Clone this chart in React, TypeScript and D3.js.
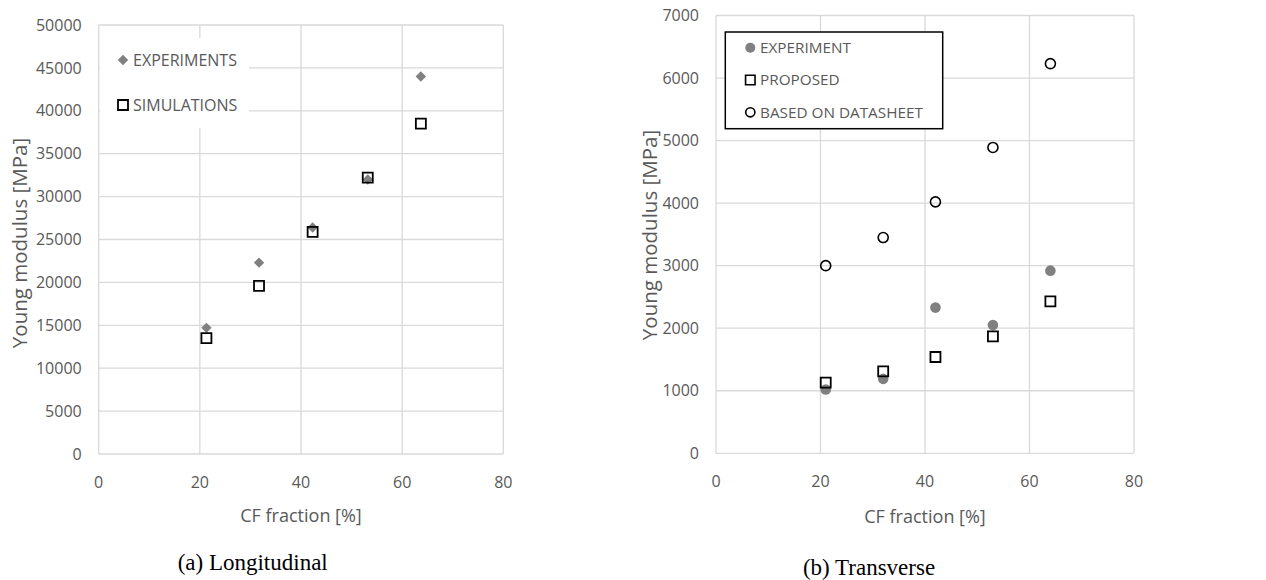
import React from 'react';
import * as d3 from 'd3';

// (a) Longitudinal
const longFraction = [21.3, 31.7, 42.3, 53.2, 63.7];
const longExperiments = [14700, 22300, 26400, 32000, 44000];
const longSimulations = [13500, 19600, 25900, 32200, 38500];

// (b) Transverse
const transFraction = [21, 32, 42, 53, 64];
const transExperiment = [1020, 1190, 2330, 2050, 2920];
const transProposed = [1130, 1310, 1540, 1870, 2430];
const transDatasheet = [3000, 3450, 4020, 4890, 6230];

const xTicks = [0, 20, 40, 60, 80];
const longYTicks = d3.range(0, 50001, 5000);
const transYTicks = d3.range(0, 7001, 1000);

const GRID = '#d9d9d9';
const TEXT = '#595959';
const GRAY = '#808080';
const SANS = '"Open Sans", sans-serif';

const squarePath = d3.symbol(d3.symbolSquare, 100)()!;
const diamondPath = d3.symbol(d3.symbolSquare, 54)()!;

type Panel = {
  x0: number; x1: number; y0: number; y1: number;
  yMax: number; yTicks: number[];
  xTitleY: number; yTitleX: number; yTitleY: number;
};

const Axes = ({ p, x, y }: { p: Panel; x: d3.ScaleLinear<number, number>; y: d3.ScaleLinear<number, number> }) => (
  <g>
    {p.yTicks.map(t => (
      <g key={'y' + t}>
        <line x1={p.x0} x2={p.x1} y1={y(t)} y2={y(t)} stroke={GRID} strokeWidth={1.3} />
        <text x={p.x0 - 17} y={y(t)} dy="0.35em" textAnchor="end" fontSize={16} fill={TEXT} fontFamily={SANS}>{t}</text>
      </g>
    ))}
    {xTicks.map(t => (
      <g key={'x' + t}>
        <line x1={x(t)} x2={x(t)} y1={p.y0} y2={p.y1} stroke={GRID} strokeWidth={1.3} />
        <text x={x(t)} y={p.y1 + 28} dy="0.35em" textAnchor="middle" fontSize={16} fill={TEXT} fontFamily={SANS}>{t}</text>
      </g>
    ))}
    <text x={(p.x0 + p.x1) / 2} y={p.xTitleY} dy="0.35em" textAnchor="middle" fontSize={18} fill={TEXT} fontFamily={SANS}>CF fraction [%]</text>
    <text transform={`translate(${p.yTitleX},${p.yTitleY}) rotate(-90)`} dy="0.35em" textAnchor="middle" fontSize={20.5} fill={TEXT} fontFamily={SANS}>Young modulus [MPa]</text>
  </g>
);

const App = () => {
  const pa: Panel = { x0: 98.7, x1: 503.3, y0: 25, y1: 454, yMax: 50000, yTicks: longYTicks, xTitleY: 516, yTitleX: 20, yTitleY: 243 };
  const pb: Panel = { x0: 716, x1: 1134, y0: 15.5, y1: 453.3, yMax: 7000, yTicks: transYTicks, xTitleY: 517, yTitleX: 650, yTitleY: 235 };

  const xa = d3.scaleLinear().domain([0, 80]).range([pa.x0, pa.x1]);
  const ya = d3.scaleLinear().domain([0, pa.yMax]).range([pa.y1, pa.y0]);
  const xb = d3.scaleLinear().domain([0, 80]).range([pb.x0, pb.x1]);
  const yb = d3.scaleLinear().domain([0, pb.yMax]).range([pb.y1, pb.y0]);

  const legendB = ['EXPERIMENT', 'PROPOSED', 'BASED ON DATASHEET'];
  const legendRows = [47.7, 80, 112.3];

  return (
    <svg width={1266} height={580} style={{ position: 'absolute', left: 0, top: 0, background: '#fff' }}>
      {/* (a) */}
      <Axes p={pa} x={xa} y={ya} />
      <rect x={100} y={38} width={149} height={90} fill="#fff" />
      <path d={diamondPath} transform="translate(123,60) rotate(45)" fill={GRAY} />
      <text x={133} y={60} dy="0.35em" fontSize={16} fill={TEXT} fontFamily={SANS}>EXPERIMENTS</text>
      <path d={squarePath} transform="translate(123,105)" fill="#fff" stroke="#000" strokeWidth={1.8} />
      <text x={133} y={105} dy="0.35em" fontSize={16} fill={TEXT} fontFamily={SANS}>SIMULATIONS</text>
      {longExperiments.map((v, i) => (
        <path key={'le' + i} d={diamondPath} transform={`translate(${xa(longFraction[i])},${ya(v)}) rotate(45)`} fill={GRAY} />
      ))}
      {longSimulations.map((v, i) => (
        <path key={'ls' + i} d={squarePath} transform={`translate(${xa(longFraction[i])},${ya(v)})`} fill="none" stroke="#000" strokeWidth={1.8} />
      ))}
      <text x={252.7} y={562} dy="0.35em" textAnchor="middle" fontSize={23} fontFamily='"Liberation Serif", serif' fill="#000">(a) Longitudinal</text>

      {/* (b) */}
      <Axes p={pb} x={xb} y={yb} />
      {transExperiment.map((v, i) => (
        <circle key={'te' + i} cx={xb(transFraction[i])} cy={yb(v)} r={5.3} fill={GRAY} />
      ))}
      {transProposed.map((v, i) => (
        <path key={'tp' + i} d={squarePath} transform={`translate(${xb(transFraction[i])},${yb(v)})`} fill="none" stroke="#000" strokeWidth={1.8} />
      ))}
      {transDatasheet.map((v, i) => (
        <circle key={'td' + i} cx={xb(transFraction[i])} cy={yb(v)} r={5} fill="none" stroke="#000" strokeWidth={1.6} />
      ))}
      <rect x={725.3} y={32} width={217.4} height={96.7} fill="#fff" stroke="#000" strokeWidth={1.5} />
      <circle cx={750.3} cy={legendRows[0]} r={5} fill={GRAY} />
      <path d={d3.symbol(d3.symbolSquare, 90)()!} transform={`translate(750.3,${legendRows[1]})`} fill="#fff" stroke="#000" strokeWidth={1.6} />
      <circle cx={750.3} cy={legendRows[2]} r={4.6} fill="none" stroke="#000" strokeWidth={1.6} />
      {legendB.map((t, i) => (
        <text key={t} x={760} y={legendRows[i]} dy="0.35em" fontSize={15.3} fill={TEXT} fontFamily={SANS}>{t}</text>
      ))}
      <text x={869} y={567} dy="0.35em" textAnchor="middle" fontSize={23} fontFamily='"Liberation Serif", serif' fill="#000">(b) Transverse</text>
    </svg>
  );
};

export default App;
